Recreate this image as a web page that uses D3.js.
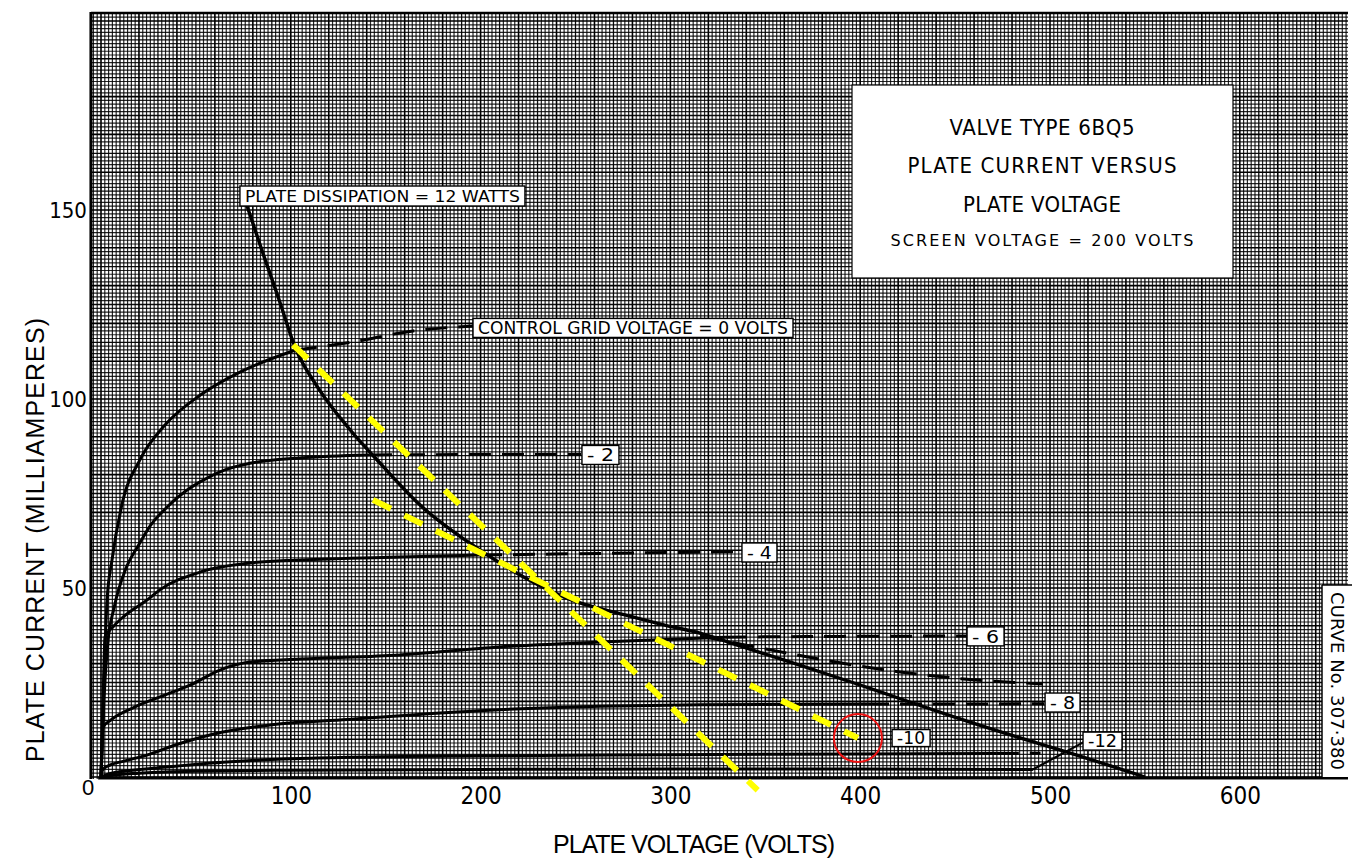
<!DOCTYPE html>
<html>
<head>
<meta charset="utf-8">
<script src="https://cdn.jsdelivr.net/npm/d3@7"></script>
<style>
  body { margin: 0; background: #fff; }
  svg { display: block; }
</style>
</head>
<body>
<div id="chart"></div>
<script>
// values: [plate volts, plate mA]
const xTickVals = [100, 200, 300, 400, 500, 600];
const yTickVals = [50, 100, 150];

const dissipation = [[76,152.5],[85,139],[94,126],[102,114],[115,102.5],[131,92],[148,82.5],[168,72],[198,60.6],[221,53.4],[247,47],[275,43],[297,40.2],[316,38],[337,34.6],[360,30.9],[396,25],[420,20.9],[447,16.3],[480,11],[509,6.6],[550,0]];

const g0Solid  = [[0,0],[1.6,25.7],[3.2,46.8],[5.8,57.4],[11,72],[20.5,83.9],[33.7,93.1],[52.2,101],[73.2,107.1],[102.2,112.9]];
const g0Dash   = [[102.2,112.9],[132.8,115.1],[164.4,118],[196,119.3]];
const g2Solid  = [[0,0],[1.5,20],[3.5,35],[7,45],[13,55],[20,61.5],[26,66.5],[35,71.5],[45,75.8],[52,78],[65,81.2],[78.5,83],[104.8,84.4],[141.7,85.2]];
const g2Dash   = [[141.7,85.2],[200,85.3],[253,85.3]];
const g4Solid  = [[0,0],[0.8,15],[1.6,30],[2.1,37],[6.3,39.7],[11.6,42.3],[24.2,46.8],[31,49.5],[52.2,54.2],[78.5,56.6],[104.8,57.4],[157.5,58.2],[199.7,58.7]];
const g4Dash   = [[199.7,58.7],[270,59.2],[337.5,59.6]];
const g6Solid  = [[0,0],[0.6,8],[1.1,13.2],[5,15],[16.9,18.3],[31.1,21.2],[46.9,24.3],[62.7,28.3],[78.5,30.4],[104.8,31.2],[157.5,32.3],[210,34.4],[263,35.7],[328.8,37]];
const g6Dash   = [[328.8,37],[390,37.2],[456,37.3]];
const g6Branch = [[315.6,37.3],[356.2,33.3],[389.4,30.2],[421,27.8],[448.9,26.2],[496.3,24.6]];
const g8Solid  = [[0,0],[1,2],[5,3.2],[12,4.2],[24.2,5.8],[40,8.6],[59,11.3],[90,13.8],[130,15.2],[160,16.3],[210,17.8],[263,18.7],[316,19.1],[403.6,19.3]];
const g8Dash   = [[403.6,19.3],[450,19.3],[497,19.4]];
const g10Solid = [[0,0],[4,0.8],[15,1.7],[29.5,2.4],[64.3,3.9],[99.6,4.8],[131,5.2],[200,5.6],[300,5.9],[400,6.1],[472,6.2]];
const g10Dash  = [[472,6.2],[495,6.3]];
const g12Solid = [[0,0],[5,0.4],[20,1],[50,1.5],[100,1.8],[200,2],[300,2.1],[400,2.1],[491,2]];
const g12Lead  = [[491,2],[518,9.3]];

// load lines drawn over the sheet
const loadLine1 = [[101.2,114.3],[346,-3.5]];
const loadLine2 = [[143.3,73.3],[398.8,10.3]];
const markPoint = [398.8, 10.3];

// label texts, anchored at the left-middle of their box (volts, mA)
const curveLabels = [
  {text: "PLATE DISSIPATION = 12 WATTS", v: 73.2, i: 153.7, size: 16, len: 275, h: 20},
  {text: "CONTROL GRID VOLTAGE = 0 VOLTS", v: 196, i: 118.8, size: 17, len: 310, h: 19},
  {text: "- 2", v: 253.4, i: 85.2, size: 17, len: 27, h: 19},
  {text: "- 4", v: 337.7, i: 59.4, size: 17, len: 25, h: 19},
  {text: "- 6", v: 456.3, i: 37.2, size: 17, len: 27, h: 19},
  {text: "- 8", v: 497.4, i: 19.7, size: 17, len: 25, h: 19},
  {text: "-10", v: 416.8, i: 10.3, size: 17, len: 28, h: 17},
  {text: "-12", v: 517.4, i: 9.5, size: 17, len: 29, h: 18}
];

const width = 1355, height = 861;

const svg = d3.select("#chart").append("svg")
    .attr("width", width)
    .attr("height", height);

const x = d3.scaleLinear().domain([0, 600]).range([101, 1239.8]);
const y = d3.scaleLinear().domain([0, 150]).range([777, 210]);

const pLeft = x(-5.3), pRight = x(657), pTop = y(202.1), pBottom = y(-0.5);

// graph paper
const paper = svg.append("g");
paper.selectAll("line.v")
    .data(d3.range(-4, 657, 2))
    .enter().append("line")
    .attr("x1", d => x(d)).attr("x2", d => x(d))
    .attr("y1", pTop).attr("y2", pBottom)
    .attr("stroke", "#000")
    .attr("stroke-width", d => d % 20 === 0 ? 1.6 : d % 10 === 0 ? 1.3 : 1.2)
    .attr("stroke-opacity", d => d % 20 === 0 ? 1 : d % 10 === 0 ? 0.95 : 0.85);
paper.selectAll("line.h")
    .data(d3.range(0, 203, 1))
    .enter().append("line")
    .attr("y1", d => y(d)).attr("y2", d => y(d))
    .attr("x1", pLeft).attr("x2", pRight)
    .attr("stroke", "#000")
    .attr("stroke-width", d => d % 10 === 0 ? 1.6 : d % 5 === 0 ? 1.3 : 1.2)
    .attr("stroke-opacity", d => d % 10 === 0 ? 1 : d % 5 === 0 ? 0.95 : 0.85);

paper.append("line").attr("x1", pLeft).attr("x2", pLeft).attr("y1", pTop - 1).attr("y2", pBottom)
    .attr("stroke", "#000").attr("stroke-width", 3);
paper.append("line").attr("x1", pLeft).attr("x2", pRight).attr("y1", pTop).attr("y2", pTop)
    .attr("stroke", "#000").attr("stroke-width", 2.5);
paper.append("line").attr("x1", x(-1.5)).attr("x2", pRight).attr("y1", y(0) + 1).attr("y2", y(0) + 1)
    .attr("stroke", "#000").attr("stroke-width", 3);

// axes (labels only)
const xAxis = svg.append("g")
    .attr("transform", `translate(0,${y(0) + 4})`)
    .call(d3.axisBottom(x).tickValues(xTickVals).tickSize(0).tickPadding(6));
xAxis.select(".domain").remove();
xAxis.selectAll("text")
    .attr("font-family", "'Liberation Sans Narrow', 'DejaVu Sans Condensed', sans-serif")
    .attr("font-size", 24).attr("fill", "#000");

const yAxis = svg.append("g")
    .attr("transform", `translate(${pLeft - 2},0)`)
    .call(d3.axisLeft(y).tickValues(yTickVals).tickSize(0).tickPadding(2));
yAxis.select(".domain").remove();
yAxis.selectAll("text")
    .attr("font-family", "'Liberation Sans Narrow', 'DejaVu Sans Condensed', sans-serif")
    .attr("font-size", 22).attr("fill", "#000");

svg.append("text")
    .attr("x", 88).attr("y", y(0) + 18)
    .attr("text-anchor", "middle")
    .attr("font-family", "'Liberation Sans Narrow', sans-serif")
    .attr("font-size", 22)
    .text("0");

svg.append("text")
    .attr("x", 694).attr("y", 853)
    .attr("text-anchor", "middle")
    .attr("font-family", "'Liberation Sans Narrow', sans-serif")
    .attr("font-size", 25)
    .attr("textLength", 282)
    .text("PLATE VOLTAGE  (VOLTS)");

svg.append("text")
    .attr("transform", "translate(44,540) rotate(-90)")
    .attr("text-anchor", "middle")
    .attr("font-family", "'Liberation Sans Narrow', sans-serif")
    .attr("font-size", 25)
    .attr("textLength", 444)
    .text("PLATE CURRENT  (MILLIAMPERES)");

// curves
const line = d3.line()
    .x(d => x(d[0]))
    .y(d => y(d[1]))
    .curve(d3.curveMonotoneX);

const solids = [g0Solid, g2Solid, g4Solid, g6Solid, g8Solid, g10Solid, g12Solid];
const dashes = [g0Dash, g2Dash, g4Dash, g6Dash, g6Branch, g8Dash, g10Dash];

const curves = svg.append("g").attr("fill", "none").attr("stroke", "#000");
curves.selectAll("path.solid")
    .data(solids)
    .enter().append("path")
    .attr("d", line)
    .attr("stroke-width", 3);
curves.selectAll("path.dash")
    .data(dashes)
    .enter().append("path")
    .attr("d", line)
    .attr("stroke-width", 3)
    .attr("stroke-dasharray", "22,11");
curves.append("path").attr("d", line(dissipation)).attr("stroke-width", 3.4);
curves.append("path").attr("d", d3.line().x(d => x(d[0])).y(d => y(d[1]))(g12Lead)).attr("stroke-width", 2.2);

// curve labels in white boxes
const labels = svg.append("g").selectAll("g")
    .data(curveLabels)
    .enter().append("g");
labels.append("rect")
    .attr("x", d => x(d.v))
    .attr("y", d => y(d.i) - d.h / 2)
    .attr("width", d => d.len + 10)
    .attr("height", d => d.h)
    .attr("fill", "#fff")
    .attr("stroke", "#000")
    .attr("stroke-width", 1.4);
labels.append("text")
    .attr("x", d => x(d.v) + 5)
    .attr("y", d => y(d.i))
    .attr("dy", "0.36em")
    .attr("font-family", "'DejaVu Sans', sans-serif")
    .attr("font-size", d => d.size)
    .attr("textLength", d => d.len)
    .attr("lengthAdjust", "spacingAndGlyphs")
    .attr("fill", "#000")
    .text(d => d.text);

// title block
const title = svg.append("g");
title.append("rect")
    .attr("x", 852).attr("y", 85).attr("width", 381).attr("height", 193)
    .attr("fill", "#fff").attr("stroke", "#000").attr("stroke-width", 1.2);
const titleLines = [
  {t: "VALVE TYPE 6BQ5", y: 135, len: 185, size: 22, f: "'DejaVu Sans Condensed', sans-serif"},
  {t: "PLATE CURRENT VERSUS", y: 173, len: 269, size: 22, f: "'DejaVu Sans Condensed', sans-serif"},
  {t: "PLATE VOLTAGE", y: 212, len: 158, size: 22, f: "'DejaVu Sans Condensed', sans-serif"},
  {t: "SCREEN VOLTAGE = 200 VOLTS", y: 246, len: 303, size: 16, f: "'DejaVu Sans', sans-serif"}
];
title.selectAll("text")
    .data(titleLines)
    .enter().append("text")
    .attr("x", 1042).attr("y", d => d.y)
    .attr("text-anchor", "middle")
    .attr("font-family", d => d.f)
    .attr("font-size", d => d.size)
    .attr("textLength", d => d.len)
    .text(d => d.t);

// curve number tag
svg.append("rect")
    .attr("x", 1322).attr("y", 585).attr("width", 33).attr("height", 192)
    .attr("fill", "#fff");
svg.append("line")
    .attr("x1", 1322).attr("x2", 1322).attr("y1", 585).attr("y2", 777)
    .attr("stroke", "#000").attr("stroke-width", 1.5);
svg.append("line")
    .attr("x1", 1322).attr("x2", 1352).attr("y1", 585).attr("y2", 585)
    .attr("stroke", "#000").attr("stroke-width", 1.5);
svg.append("text")
    .attr("transform", "translate(1331,681) rotate(90)")
    .attr("text-anchor", "middle")
    .attr("font-family", "'DejaVu Sans', sans-serif")
    .attr("font-size", 18)
    .attr("textLength", 178)
    .text("CURVE No. 307·380");

// load lines and marker
const straight = d3.line().x(d => x(d[0])).y(d => y(d[1]));
svg.append("g").selectAll("path")
    .data([loadLine1, loadLine2])
    .enter().append("path")
    .attr("d", straight)
    .attr("fill", "none")
    .attr("stroke", "#ffff00")
    .attr("stroke-width", 6)
    .attr("stroke-dasharray", "20,15");

svg.append("circle")
    .attr("cx", x(markPoint[0])).attr("cy", y(markPoint[1]))
    .attr("r", 24)
    .attr("fill", "none")
    .attr("stroke", "#ee1111")
    .attr("stroke-width", 2);
</script>
</body>
</html>
